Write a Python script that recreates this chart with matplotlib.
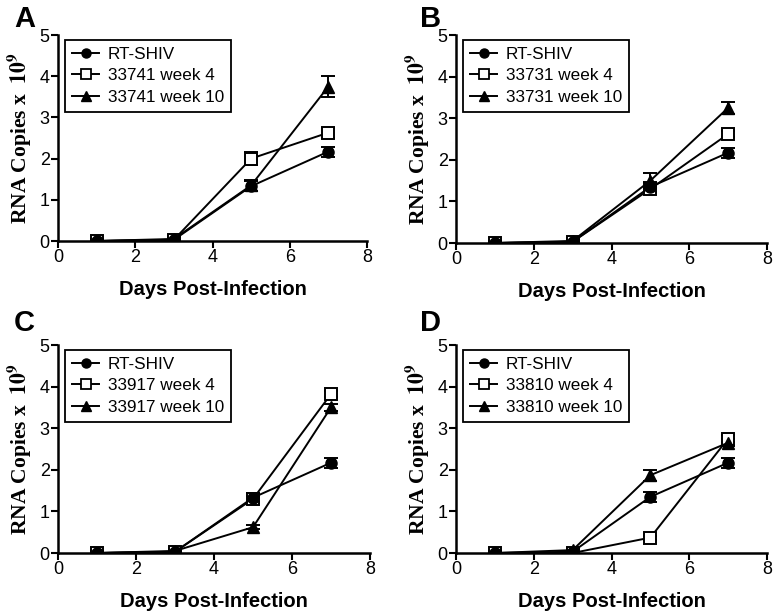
import numpy as np
import matplotlib
matplotlib.use('Agg')
import matplotlib.pyplot as plt
from matplotlib.lines import Line2D

plt.rcParams['font.family'] = 'Liberation Sans'
plt.rcParams['mathtext.fontset'] = 'stix'

days = [1, 3, 5, 7]

# panel letters and animal ids
panels = ['A', 'B', 'C', 'D']
animals = ['33741', '33731', '33917', '33810']

# RT-SHIV control (same in every panel)
rt_shiv = [[0.0, 0.03, 1.33, 2.17],
           [0.0, 0.03, 1.35, 2.17],
           [0.0, 0.03, 1.33, 2.17],
           [0.0, 0.03, 1.35, 2.17]]
rt_shiv_err = [[0.06, 0.06, 0.12, 0.12],
               [0.06, 0.06, 0.12, 0.12],
               [0.06, 0.06, 0.12, 0.12],
               [0.06, 0.06, 0.12, 0.12]]

week4 = [[0.0, 0.03, 2.0, 2.63],
         [0.0, 0.03, 1.3, 2.62],
         [0.0, 0.03, 1.3, 3.82],
         [0.0, 0.0, 0.37, 2.75]]
week4_err = [[0.06, 0.06, 0.15, 0.12],
             [0.06, 0.06, 0.08, 0.08],
             [0.06, 0.06, 0.08, 0.08],
             [0.06, 0.03, 0.05, 0.08]]

week10 = [[0.0, 0.05, 1.35, 3.75],
          [0.0, 0.05, 1.5, 3.25],
          [0.0, 0.05, 0.62, 3.5],
          [0.0, 0.07, 1.87, 2.65]]
week10_err = [[0.06, 0.06, 0.13, 0.25],
              [0.06, 0.06, 0.18, 0.15],
              [0.06, 0.06, 0.05, 0.08],
              [0.06, 0.06, 0.13, 0.08]]

W, H = 776.0, 615.0
fig = plt.figure(figsize=(7.76, 6.15), dpi=100)

# pixel boxes: left, top, right, bottom
boxes = [(58, 35, 367, 241), (456, 35, 767, 243),
         (58, 345, 370, 553), (456, 345, 767, 553)]
letter_pos = [(14, 5), (420, 5), (14, 309), (420, 309)]

for i in range(4):
    l, t, r, b = boxes[i]
    ax = fig.add_axes([l / W, 1 - b / H, (r - l) / W, (b - t) / H])
    eb = dict(capsize=5, elinewidth=1.4, capthick=1.4, color='black', lw=1.4)
    ax.errorbar(days, week4[i], yerr=week4_err[i], marker='s', mfc='white', mew=1.4,
                ms=9, **eb)
    ax.errorbar(days, rt_shiv[i], yerr=rt_shiv_err[i], marker='o', mfc='black',
                ms=8, **eb)
    ax.errorbar(days, week10[i], yerr=week10_err[i], marker='^', mfc='black',
                ms=8, **eb)
    ax.set_xlim(0, 8)
    ax.set_ylim(0, 5)
    ax.set_xticks([0, 2, 4, 6, 8])
    ax.set_yticks([0, 1, 2, 3, 4, 5])
    for s in ['top', 'right']:
        ax.spines[s].set_visible(False)
    for s in ['left', 'bottom']:
        ax.spines[s].set_linewidth(1.8)
    ax.tick_params(direction='out', length=5, width=1.5, labelsize=13, pad=1)
    ax.set_xlabel('Days Post-Infection', fontsize=14.5, fontweight='bold', labelpad=10)
    ax.set_ylabel(r'RNA Copies x  $\mathbf{10^{9}}$', fontsize=15.5, fontweight='bold',
                  family='Liberation Serif', labelpad=5)
    handles = [Line2D([], [], color='black', lw=1.4, marker='o', ms=6.5, mfc='black'),
               Line2D([], [], color='black', lw=1.4, marker='s', ms=6.5, mfc='white', mew=1.3),
               Line2D([], [], color='black', lw=1.4, marker='^', ms=6.5, mfc='black')]
    labels = ['RT-SHIV', animals[i] + ' week 4', animals[i] + ' week 10']
    leg = ax.legend(handles, labels, loc='upper left', bbox_to_anchor=(0.023, 0.976),
                    fontsize=12.3, fancybox=False, framealpha=1, edgecolor='black',
                    borderpad=0.4, labelspacing=0.38, handlelength=1.6,
                    handletextpad=0.5, borderaxespad=0)
    leg.get_frame().set_linewidth(1.3)
    lx, ly = letter_pos[i]
    fig.text(lx / W, 1 - ly / H, panels[i], fontsize=21, fontweight='bold',
             va='top', ha='left')

fig.savefig('out.png', dpi=100)
